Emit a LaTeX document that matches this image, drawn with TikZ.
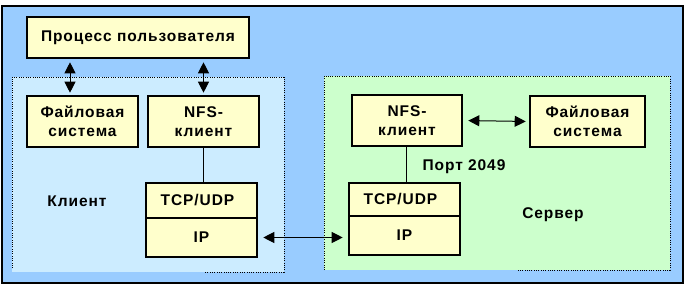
\documentclass[tikz,border=0pt]{standalone}
\usepackage{fontspec}
\setmainfont{Liberation Sans}[LetterSpace=6]
\usetikzlibrary{arrows.meta}
\definecolor{outerblue}{HTML}{99CCFF}
\definecolor{clientblue}{HTML}{CCECFF}
\definecolor{servergreen}{HTML}{CCFFCC}
\definecolor{boxyellow}{HTML}{FFFFCC}
\tikzset{
  lbl/.style={font=\bfseries\fontsize{15.5}{19}\selectfont, align=center, inner sep=0pt},
  ybox/.style={draw=black, line width=2.6pt, fill=boxyellow, font=\bfseries\fontsize{15.5}{19}\selectfont, align=center, inner sep=0pt},
  dotb/.style={line width=0.9pt, dash pattern=on 0.9pt off 1.4pt},
  dbl/.style={line width=1pt, {Triangle[length=11pt,width=11pt]}-{Triangle[length=11pt,width=11pt]}},
  link/.style={line width=1pt}
}
\begin{document}
\begin{tikzpicture}[x=1pt,y=-1pt]
\useasboundingbox[fill=white] (0,0) rectangle (685,286);
% outer frame
\draw[fill=outerblue, line width=1.4pt] (2,6) rectangle (683,283);
% client region
\fill[clientblue] (12,77) rectangle (284,272);
\draw[dotb] (12,268) -- (12,77) -- (284,77) -- (284,272) -- (205,272);
% server region
\fill[servergreen] (324,76) rectangle (670,270);
\draw[dotb] (324,270) -- (324,76) -- (670,76) -- (670,270) -- (517,270);
% boxes
\node[ybox, minimum width=222pt, minimum height=41pt] (proc) at (138,37.5) {Процесс пользователя};
\node[ybox, minimum width=111pt, minimum height=51pt] (fsC) at (82.5,121.5) {Файловая\\система};
\node[ybox, minimum width=111pt, minimum height=51pt] (nfsC) at (203.5,121.5) {NFS-\\клиент};
\node[ybox, minimum width=111pt, minimum height=35pt] (tcpC) at (201.5,200.5) {\hspace*{-8pt}TCP/UDP};
\node[ybox, minimum width=111pt, minimum height=39pt] (ipC) at (201.5,237.5) {IP};
\node[ybox, minimum width=110pt, minimum height=51pt] (nfsS) at (407,120.5) {NFS-\\клиент};
\node[ybox, minimum width=115pt, minimum height=51pt] (fsS) at (587.5,121.5) {Файловая\\система};
\node[ybox, minimum width=111pt, minimum height=33pt] (tcpS) at (404.5,199.5) {\hspace*{-8pt}TCP/UDP};
\node[ybox, minimum width=111pt, minimum height=39pt] (ipS) at (404.5,235.5) {IP};
% labels
\node[lbl] (klient) at (77,201) {Клиент};
\node[lbl] (port) at (464,167) {Порт 2049};
\node[lbl] (server) at (553,215) {Сервер};
% connectors
\draw[dbl, shorten <=3pt, shorten >=2pt] (proc.south -| 70,0) -- (fsC.north -| 70,0);
\draw[dbl, shorten <=3pt, shorten >=2pt] (proc.south -| nfsC.north) -- (nfsC.north);
\draw[link] (nfsC.south) -- (nfsC.south |- tcpC.north);
\draw[link] (nfsS.south -| 406,0) -- (tcpS.north -| 406,0);
\draw[dbl, shorten <=5pt, shorten >=3pt] (nfsS.east) -- (fsS.west);
\draw[dbl, shorten <=5pt, shorten >=5pt] (ipC.east) -- (ipC.east -| ipS.west);
\end{tikzpicture}
\end{document}
